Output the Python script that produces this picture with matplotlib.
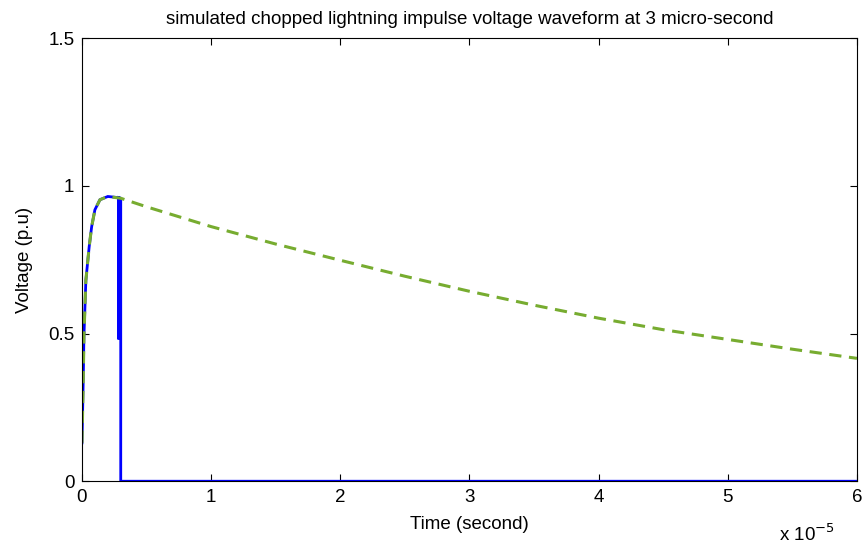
import numpy as np
import matplotlib
matplotlib.use('Agg')
import matplotlib.pyplot as plt
from matplotlib.ticker import FuncFormatter

# full lightning impulse, time in seconds
t_full = [0.0, 0.1e-6, 0.15e-6, 0.3e-6, 0.56e-6, 0.75e-6, 1.0e-6, 1.39e-6, 2.0e-6,
          3.0e-6, 5.0e-6, 10e-6, 15e-6, 20e-6, 25e-6, 30e-6, 35e-6,
          40e-6, 45e-6, 50e-6, 55e-6, 60e-6]
v_full = [0.13, 0.35, 0.49, 0.68, 0.795, 0.862, 0.919, 0.953, 0.964,
          0.958, 0.929, 0.862, 0.803, 0.748, 0.694, 0.643, 0.596,
          0.552, 0.513, 0.48, 0.447, 0.416]

# chopped at 3 micro-second
t_chop = [0.0, 0.1e-6, 0.15e-6, 0.3e-6, 0.56e-6, 0.75e-6, 1.0e-6, 1.39e-6, 2.0e-6,
          2.85e-6, 2.85e-6, 2.85e-6, 3.0e-6, 3.0e-6, 60e-6]
v_chop = [0.13, 0.35, 0.49, 0.68, 0.795, 0.862, 0.919, 0.953, 0.964,
          0.96, 0.48, 0.96, 0.958, 0.0, 0.0]

plt.rcParams['font.family'] = ['Liberation Sans', 'DejaVu Sans']
plt.rcParams['font.size'] = 13.5

fig = plt.figure(figsize=(8.63, 5.45), dpi=100)
ax = fig.add_axes([0.095, 0.117, 0.898, 0.813])

ax.plot(t_chop, v_chop, color='#0000ff', linewidth=2, solid_joinstyle='miter')
ax.plot(t_full, v_full, color='#77ac30', linewidth=2.2, linestyle=(0, (4, 2.5)))

ax.set_xlim(0, 6e-5)
ax.set_ylim(0, 1.5)
ax.set_xticks(np.arange(0, 6.01e-5, 1e-5))
ax.set_yticks([0, 0.5, 1, 1.5])
ax.xaxis.set_major_formatter(FuncFormatter(lambda x, p: '%g' % round(x / 1e-5, 6)))
ax.yaxis.set_major_formatter(FuncFormatter(lambda y, p: '%g' % y))
ax.tick_params(direction='in', top=True, right=True, length=5, width=0.8, pad=5.5)
for s in ax.spines.values():
    s.set_linewidth(0.8)

ax.set_title('simulated chopped lightning impulse voltage waveform at 3 micro-second', fontsize=13.5, pad=10.5)
ax.set_xlabel('Time (second)', labelpad=7)
ax.set_ylabel('Voltage (p.u)', labelpad=11)
fig.text(0.903, 0.008, 'x 10$^{-5}$', fontsize=13.5)

plt.savefig('out.png', dpi=100)
